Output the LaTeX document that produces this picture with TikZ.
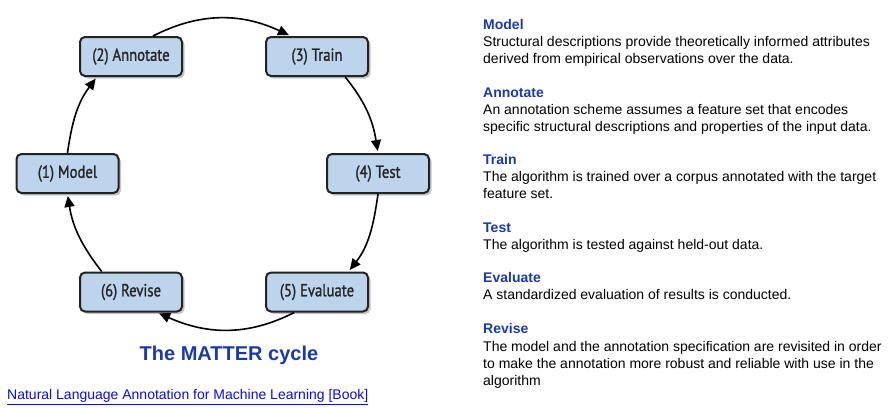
\documentclass[tikz,border=0pt]{standalone}
\usepackage{fontspec}
\setmainfont{Liberation Sans}
\newfontfamily\boxfont[FakeStretch=0.84,FakeBold=1.3]{PT Sans}
\usepackage{tikz}
\usetikzlibrary{arrows.meta, shadows}
\definecolor{boxblue}{RGB}{189,213,236}
\definecolor{boxline}{RGB}{34,34,34}
\definecolor{headblue}{RGB}{26,58,170}
\definecolor{linkblue}{RGB}{10,10,238}
\tikzset{
  stage/.style ={draw=boxline, rounded corners=5pt, line width=2pt, fill=boxblue, minimum width=102pt, minimum height=39pt, inner sep=0pt, text=black!85,
                 font=\boxfont\fontsize{17.5}{18}\selectfont, drop shadow={shadow xshift=2.5pt, shadow yshift=-2.5pt, fill=black!45}},
  cyc/.style   ={-{Triangle[length=11pt,width=10pt]}, line width=1.6pt, shorten >=2pt},   % one step of the cycle
  head/.style  ={anchor=base west, inner sep=0pt, font=\fontsize{14}{17}\selectfont\bfseries, text=headblue},
  body/.style  ={anchor=north west, inner sep=0pt, align=left, font=\fontsize{14}{17}\selectfont, text=black},
  capt/.style  ={anchor=base, inner sep=0pt, font=\fontsize{20}{24}\selectfont\bfseries, text=headblue},
  lnk/.style   ={anchor=base west, inner sep=0pt, font=\fontsize{14}{17}\selectfont, text=linkblue},
}

\begin{document}
\begin{tikzpicture}[x=1pt,y=1pt]
  \useasboundingbox (0,0) rectangle (891,-407);
  % the six stages round the circle
  \node[stage] (mdl) at (67.5,-173.5) {(1) Model};
  \node[stage] (ann) at (131,-56.5)   {(2) Annotate};
  \node[stage] (trn) at (317,-56.5)   {(3) Train};
  \node[stage] (tst) at (378,-173.5)  {(4) Test};
  \node[stage] (evl) at (317,-292)    {(5) Evaluate};
  \node[stage] (rvs) at (131,-292)    {(6) Revise};
  \draw[cyc] (mdl.north) to[out=82,in=-127] (ann.-149);
  \draw[cyc] (ann.43) to[out=27,in=155] (trn.142);
  \draw[cyc] (trn.-36) to[out=-51,in=99] (tst.north);
  \draw[cyc] (tst.south) to[out=-98,in=52] (evl.33);
  \draw[cyc] (evl.-138) to[out=-153,in=-24] (rvs.-38);
  \draw[cyc] (rvs.145) to[out=128,in=-81] (mdl.south);
  \node[capt] (cap) at (229,-360) {The MATTER cycle};
  \node[lnk] (book) at (7,-399.5) {\underline{Natural Language Annotation for Machine Learning [Book]}};
  % right column: one heading and its text per stage
  \node[head] (hmdl) at (483,-29) {Model};
  \node[body] (tmdl) at (483,-36) {Structural descriptions provide theoretically informed attributes\\derived from empirical observations over the data.};
  \node[head] (hann) at (483,-97) {Annotate};
  \node[body] (tann) at (483,-104) {An annotation scheme assumes a feature set that encodes\\specific structural descriptions and properties of the input data.};
  \node[head] (htrn) at (483,-164) {Train};
  \node[body] (ttrn) at (483,-171) {The algorithm is trained over a corpus annotated with the target\\feature set.};
  \node[head] (htst) at (483,-232) {Test};
  \node[body] (ttst) at (483,-239) {The algorithm is tested against held-out data.};
  \node[head] (hevl) at (483,-282) {Evaluate};
  \node[body] (tevl) at (483,-289) {A standardized evaluation of results is conducted.};
  \node[head] (hrvs) at (483,-333) {Revise};
  \node[body] (trvs) at (483,-341) {The model and the annotation specification are revisited in order\\to make the annotation more robust and reliable with use in the\\algorithm};
\end{tikzpicture}
\end{document}
